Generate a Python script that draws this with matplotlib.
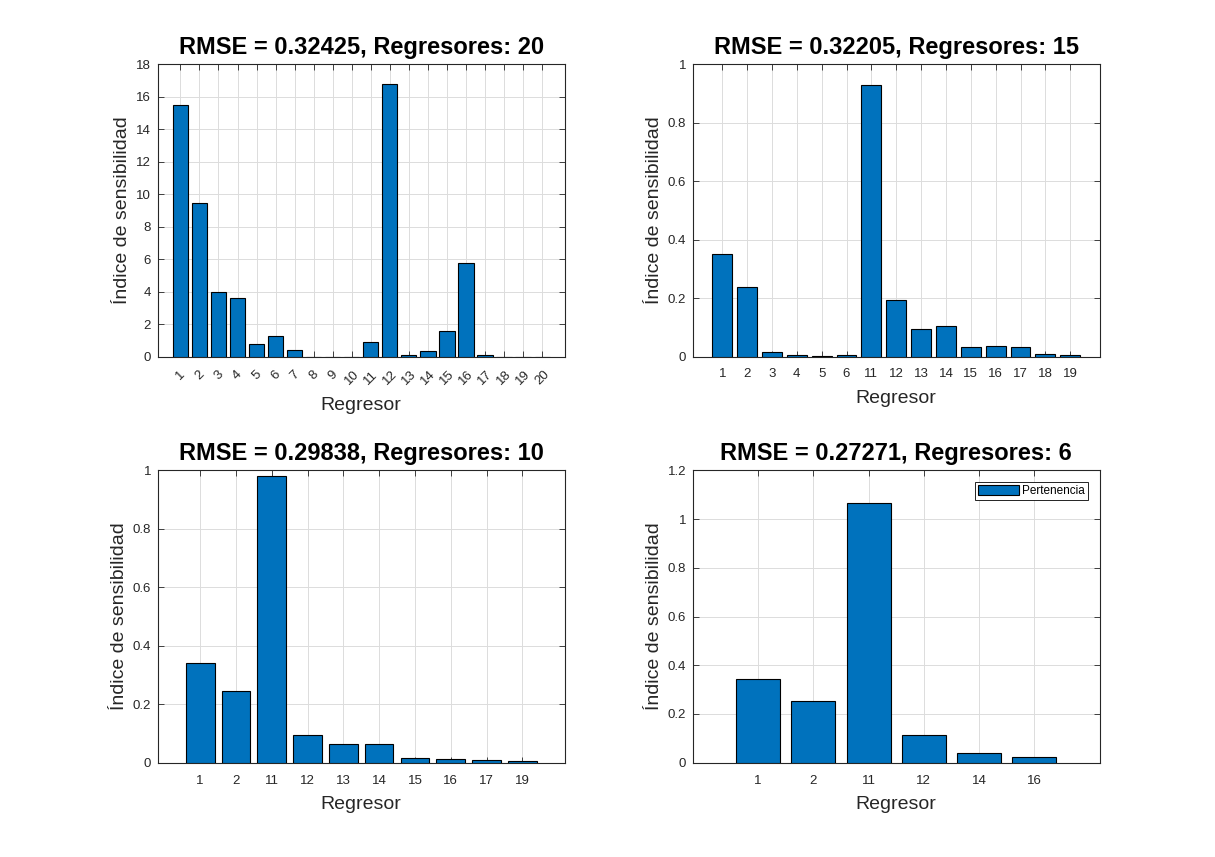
import matplotlib.pyplot as plt
import numpy as np
from matplotlib.ticker import FormatStrFormatter

plt.rcParams['font.family'] = ['Liberation Sans', 'DejaVu Sans']

# Sensitivity index per regressor, one set per model
reg_20 = [str(i) for i in range(1, 21)]
sens_20 = [15.51, 9.45, 4.0, 3.6, 0.8, 1.3, 0.44, 0, 0, 0,
           0.93, 16.76, 0.12, 0.37, 1.6, 5.75, 0.12, 0, 0, 0]

reg_15 = ['1', '2', '3', '4', '5', '6', '11', '12', '13', '14', '15', '16', '17', '18', '19']
sens_15 = [0.35, 0.24, 0.017, 0.007, 0.003, 0.007, 0.93, 0.195, 0.095, 0.106,
           0.034, 0.038, 0.034, 0.01, 0.007]

reg_10 = ['1', '2', '11', '12', '13', '14', '15', '16', '17', '19']
sens_10 = [0.34, 0.245, 0.98, 0.095, 0.065, 0.065, 0.017, 0.013, 0.01, 0.007]

reg_6 = ['1', '2', '11', '12', '14', '16']
sens_6 = [0.345, 0.255, 1.065, 0.115, 0.04, 0.024]

titles = ['RMSE = 0.32425, Regresores: 20', 'RMSE = 0.32205, Regresores: 15',
          'RMSE = 0.29838, Regresores: 10', 'RMSE = 0.27271, Regresores: 6']
ylims = [18, 1, 1, 1.2]
ysteps = [2, 0.2, 0.2, 0.2]

blue = '#0072BD'
dark = '#262626'

fig = plt.figure(figsize=(12.15, 8.57), dpi=100)
positions = [[0.13, 0.5838, 0.3347, 0.3412], [0.5703, 0.5838, 0.3347, 0.3412],
             [0.13, 0.11, 0.3347, 0.3412], [0.5703, 0.11, 0.3347, 0.3412]]

panels = [(reg_20, sens_20), (reg_15, sens_15), (reg_10, sens_10), (reg_6, sens_6)]

for k, (labels, vals) in enumerate(panels):
    ax = fig.add_axes(positions[k])
    x = np.arange(1, len(vals) + 1)
    ax.bar(x, vals, width=0.8, color=blue, edgecolor='black', linewidth=0.8,
           label='Pertenencia', zorder=3)
    ax.set_xlim(-0.18, len(vals) + 1.18)
    ax.set_ylim(0, ylims[k])
    ax.set_yticks(np.arange(0, ylims[k] + 1e-9, ysteps[k]))
    ax.yaxis.set_major_formatter(FormatStrFormatter('%g'))
    ax.set_xticks(x)
    if k == 0:
        ax.set_xticklabels(labels, rotation=45, ha='center', va='top')
    else:
        ax.set_xticklabels(labels)
    ax.grid(True, color='#dcdcdc', linewidth=0.7, zorder=0)
    ax.set_axisbelow(True)
    ax.tick_params(direction='in', length=4, width=0.6, colors=dark, labelsize=9.5,
                   top=True, right=True)
    ax.tick_params(axis='x', pad=8.5)
    ax.tick_params(axis='y', pad=5)
    for sp in ax.spines.values():
        sp.set_color(dark)
        sp.set_linewidth(0.8)
    ax.set_title(titles[k], fontsize=17, fontweight='bold', pad=7.5)
    ax.set_xlabel('Regresor', fontsize=14, color=dark, labelpad=6.5)
    ax.set_ylabel('Índice de sensibilidad', fontsize=14, color=dark, labelpad=3.5)
    if k == 3:
        leg = ax.legend(loc='upper right', fontsize=8.5, handlelength=3.4, handleheight=0.9,
                        handletextpad=0.3, borderpad=0.25, borderaxespad=1.0,
                        fancybox=False, framealpha=1)
        leg.get_frame().set_edgecolor('black')
        leg.get_frame().set_linewidth(0.6)

fig.savefig('out.png', dpi=100)
